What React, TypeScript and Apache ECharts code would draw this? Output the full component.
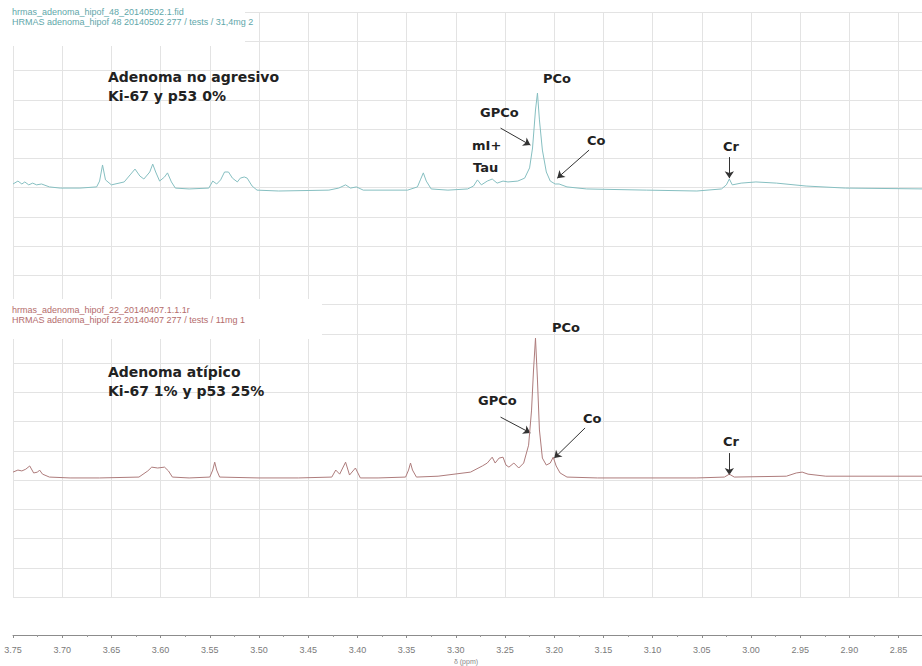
import { useEffect, useRef } from "react";
import * as echarts from "echarts";

// Chemical shift axis (ppm), drawn high-to-low as in NMR convention.
// The low-field end is left open so the trace runs to the right edge.
const PPM_MIN = 2.8262;
const PPM_MAX = 3.75;
const PPM_STEP = 0.05;

// Vertical stacking scale shared by both traces
const Y_MIN = 0;
const Y_MAX = 200;
const Y_STEP = 10;
const TOP_BASELINE = 140;
const BOTTOM_BASELINE = 41;

// Non-aggressive adenoma (Ki-67 and p53 0%): [ppm, intensity]
const topSpectrum: [number, number][] = [
  [3.75, 1.2], [3.745, 2.2], [3.741, 1.2], [3.738, 1.9], [3.734, 0.9], [3.73, 1.5],
  [3.726, 0.9], [3.721, 1.2], [3.713, 0.2], [3.702, -0.2], [3.682, -0.2], [3.665, 0.2],
  [3.662, 2.2], [3.659, 7.7], [3.656, 2.6], [3.65, 0.9], [3.637, 1.9], [3.631, 4.3],
  [3.626, 6.3], [3.621, 3.9], [3.617, 2.9], [3.611, 5.3], [3.608, 8.0], [3.605, 5.3],
  [3.601, 2.2], [3.596, 3.6], [3.593, 5.0], [3.589, 1.9], [3.585, -0.2], [3.571, -0.5],
  [3.551, -0.2], [3.547, 2.2], [3.543, 1.2], [3.539, 2.6], [3.535, 5.3], [3.531, 5.3],
  [3.527, 3.2], [3.522, 1.9], [3.519, 3.2], [3.515, 3.6], [3.512, 3.2], [3.507, 0.5],
  [3.502, -0.9], [3.48, -1.2], [3.429, -0.9], [3.419, -0.2], [3.412, 0.9], [3.407, -0.2],
  [3.401, 0.2], [3.394, -0.9], [3.349, -0.9], [3.339, 0.2], [3.336, 2.6], [3.333, 5.0],
  [3.33, 2.2], [3.325, -0.5], [3.308, -0.9], [3.288, -0.5], [3.282, 0.5], [3.278, 2.6],
  [3.274, 0.9], [3.268, 2.2], [3.263, 2.9], [3.258, 1.5], [3.252, 2.2], [3.247, 1.9],
  [3.237, 2.2], [3.23, 3.2], [3.225, 6.7], [3.222, 13.5], [3.219, 26.5], [3.217, 32.3],
  [3.215, 23.1], [3.212, 12.8], [3.208, 5.3], [3.204, 2.2], [3.199, 1.2], [3.195, 1.2],
  [3.187, 0.2], [3.167, -0.5], [3.106, -0.9], [3.055, -1.2], [3.03, -0.5], [3.025, 0.9],
  [3.022, 2.9], [3.019, 0.9], [3.01, 1.5], [2.995, 1.9], [2.974, 1.5], [2.944, 0.5],
  [2.904, -0.2], [2.82, -0.5],
];

// Atypical adenoma (Ki-67 1%, p53 25%): [ppm, intensity]
const bottomSpectrum: [number, number][] = [
  [3.75, 1.7], [3.745, 2.4], [3.741, 2.1], [3.737, 2.7], [3.733, 3.8], [3.729, 1.4],
  [3.725, 1.7], [3.723, 2.4], [3.72, 1.0], [3.713, 0], [3.692, -0.3], [3.662, -0.3],
  [3.622, 0], [3.613, 2.1], [3.609, 3.4], [3.603, 3.1], [3.596, 3.4], [3.592, 2.1],
  [3.588, 0], [3.571, -0.3], [3.55, 0], [3.547, 2.4], [3.545, 5.1], [3.543, 2.4],
  [3.54, 0], [3.5, -0.3], [3.46, -0.3], [3.426, 0], [3.422, 2.4], [3.418, 1.0],
  [3.412, 5.1], [3.408, 0.7], [3.402, 3.1], [3.397, -0.3], [3.379, -0.3], [3.351, 0],
  [3.348, 2.4], [3.346, 4.8], [3.344, 2.4], [3.34, 0], [3.318, 0.3], [3.285, 1.7],
  [3.273, 3.8], [3.268, 4.8], [3.263, 6.8], [3.26, 4.8], [3.256, 6.5], [3.252, 6.8],
  [3.249, 4.1], [3.246, 3.4], [3.241, 4.8], [3.236, 3.1], [3.231, 4.8], [3.226, 10.9],
  [3.223, 22.9], [3.221, 36.6], [3.219, 47.5], [3.217, 33.2], [3.215, 16.1], [3.212, 6.5],
  [3.208, 4.1], [3.204, 4.8], [3.201, 6.8], [3.198, 3.8], [3.194, 1.4], [3.187, 0],
  [3.156, -0.3], [3.055, -0.3], [3.027, 0], [3.022, 1.0], [3.017, 0], [2.964, 0.3],
  [2.954, 1.4], [2.948, 1.7], [2.942, 1.0], [2.924, 0.3], [2.82, 0.3],
];

// Assignment arrows, start -> end in [ppm, stacked value]
const topArrows: [number, number][][] = [
  [[3.2545, 160.3], [3.2242, 154.5]], // GPCo
  [[3.1645, 152.8], [3.1969, 143.2]], // Co
  [[3.022, 150.4], [3.022, 143.2]], // Cr
];
const bottomArrows: [number, number][][] = [
  [[3.2545, 61.5], [3.2242, 56.1]], // GPCo
  [[3.1686, 57.8], [3.1999, 47.5]], // Co
  [[3.022, 49.2], [3.022, 41.7]], // Cr
];

const topHeader = [
  "hrmas_adenoma_hipof_48_20140502.1.fid",
  "HRMAS adenoma_hipof 48 20140502 277 / tests / 31,4mg 2",
];
const bottomHeader = [
  "hrmas_adenoma_hipof_22_20140407.1.1.1r",
  "HRMAS adenoma_hipof 22 20140407 277 / tests / 11mg 1",
];

const TOP_COLOR = "#86bfc1";
const BOTTOM_COLOR = "#ae7c7c";
const GRID_COLOR = "#e3e3e3";
const HAND_FONT = "bold 14px 'DejaVu Sans', sans-serif";
const LABEL_FONT = "bold 13px 'DejaVu Sans', sans-serif";
const HEADER_FONT = "9px 'Liberation Sans', Arial, sans-serif";

function arrowLines(list: [number, number][][]) {
  return list.map(([a, b]) => [{ coord: a }, { coord: b }]);
}

function label(text: string, x: number, y: number, font = LABEL_FONT) {
  return {
    type: "text",
    x,
    y,
    z: 20,
    style: { text, font, fill: "#222", align: "left", verticalAlign: "middle" },
  };
}

function header(lines: string[], y: number, color: string) {
  return lines.map((t, i) => ({
    type: "text",
    x: 12,
    y: y + i * 9.5,
    z: 20,
    style: { text: t, font: HEADER_FONT, fill: color, align: "left", verticalAlign: "middle" },
  }));
}

export default function App() {
  const ref = useRef<HTMLDivElement>(null);

  useEffect(() => {
    if (!ref.current) return;
    const chart = echarts.init(ref.current, undefined, { renderer: "svg" });

    const arrowMark = (list: [number, number][][]) => ({
      silent: true,
      symbol: ["none", "arrow"],
      symbolSize: 7,
      label: { show: false },
      lineStyle: { color: "#333", width: 1, type: "solid" },
      data: arrowLines(list),
    });

    chart.setOption({
      animation: false,
      backgroundColor: "#ffffff",
      grid: { left: 13, top: 12, height: 585, right: 0 },
      xAxis: {
        type: "value",
        inverse: true,
        min: PPM_MIN,
        max: PPM_MAX,
        minInterval: PPM_STEP,
        maxInterval: PPM_STEP,
        splitNumber: 19,
        position: "bottom",
        offset: 38,
        axisLine: { show: true, onZero: false, lineStyle: { color: "#8c8c8c", width: 1 } },
        axisTick: { show: true, length: 3, lineStyle: { color: "#8c8c8c" } },
        minorTick: { show: true, splitNumber: 2, length: 2, lineStyle: { color: "#9a9a9a" } },
        splitLine: { show: true, lineStyle: { color: GRID_COLOR, width: 1 } },
        axisLabel: {
          fontSize: 9,
          color: "#7a7a7a",
          margin: 10,
          showMinLabel: false,
          fontFamily: "'Liberation Sans', Arial, sans-serif",
          formatter: (v: number) => v.toFixed(2),
        },
      },
      yAxis: {
        type: "value",
        min: Y_MIN,
        max: Y_MAX,
        interval: Y_STEP,
        axisLine: { show: false },
        axisTick: { show: false },
        axisLabel: { show: false },
        splitLine: { show: true, lineStyle: { color: GRID_COLOR, width: 1 } },
      },
      series: [
        {
          name: "Adenoma no agresivo",
          type: "line",
          showSymbol: false,
          symbol: "none",
          z: 5,
          lineStyle: { color: TOP_COLOR, width: 1 },
          data: topSpectrum.map(([p, v]) => [p, v + TOP_BASELINE]),
          markLine: arrowMark(topArrows),
        },
        {
          name: "Adenoma atípico",
          type: "line",
          showSymbol: false,
          symbol: "none",
          z: 5,
          lineStyle: { color: BOTTOM_COLOR, width: 1 },
          data: bottomSpectrum.map(([p, v]) => [p, v + BOTTOM_BASELINE]),
          markLine: arrowMark(bottomArrows),
        },
      ],
      graphic: [
        { type: "rect", z: 15, shape: { x: 0, y: 0, width: 245, height: 46 }, style: { fill: "#fff" } },
        { type: "rect", z: 15, shape: { x: 0, y: 299, width: 322, height: 40 }, style: { fill: "#fff" } },
        ...header(topHeader, 12, "#5fa7aa"),
        ...header(bottomHeader, 310, "#b46c6c"),
        label("Adenoma no agresivo", 108, 77, HAND_FONT),
        label("Ki-67 y p53 0%", 108, 96, HAND_FONT),
        label("Adenoma atípico", 108, 372, HAND_FONT),
        label("Ki-67 1% y p53 25%", 108, 391, HAND_FONT),
        label("PCo", 543, 78),
        label("GPCo", 480, 112),
        label("mI+", 472, 145),
        label("Tau", 473, 167),
        label("Co", 587, 140),
        label("Cr", 723, 146),
        label("PCo", 552, 327),
        label("GPCo", 478, 400),
        label("Co", 583, 418),
        label("Cr", 723, 441),
        {
          type: "text",
          x: 466,
          y: 661,
          z: 20,
          style: {
            text: "δ (ppm)",
            font: "7px 'Liberation Sans', Arial, sans-serif",
            fill: "#888",
            align: "center",
            verticalAlign: "middle",
          },
        },
      ],
    });

    return () => chart.dispose();
  }, []);

  return (
    <div
      ref={ref}
      style={{ position: "fixed", left: 0, top: 0, width: 922, height: 666, background: "#fff" }}
    />
  );
}
